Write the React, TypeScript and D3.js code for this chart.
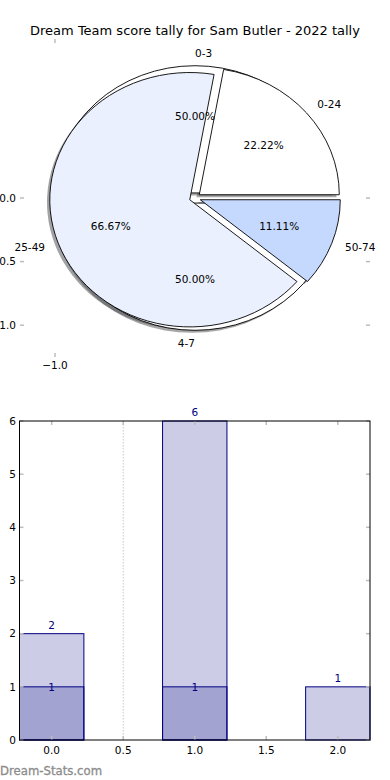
import React from 'react';
import * as d3 from 'd3';

// ---------- data ----------
const title = 'Dream Team score tally for Sam Butler - 2022 tally';
const pieInnerLabels = ['0-3', '4-7'];
const pieInnerValues = [1, 1];
const pieInnerColors = ['#ffffff', '#ffffff'];
const pieOuterLabels = ['0-24', '25-49', '50-74'];
const pieOuterValues = [2, 6, 1];
const pieOuterColors = ['#ffffff', '#eaf0fd', '#c5d8fd'];
const pieXTicks = [-1.0];
const pieXTickLabels = ['\u22121.0'];
const pieYTicks = [0, -0.5, -1.0];
const pieYTickLabels = ['0.0', '\u22120.5', '\u22121.0'];

const barCategories = [0, 1, 2];
const barTotals = [2, 6, 1];
const barSubset = [1, 1, 0];
const barXTicks = [0, 0.5, 1, 1.5, 2];
const barXTickLabels = ['0.0', '0.5', '1.0', '1.5', '2.0'];
const barYTicks = [0, 1, 2, 3, 4, 5, 6];
const watermark = 'Dream-Stats.com';

// ---------- constants ----------
const W = 390;
const H = 780;
const FONT = 'DejaVu Sans, sans-serif';
const EXPLODE = 0.04;
const TICK = '#bdbdbd';
const NAVY = '#000080';

function shade(hex: string) {
  const c = d3.rgb(hex);
  return d3.rgb(c.r * 0.3, c.g * 0.3, c.b * 0.3).toString();
}

export default function App() {
  // ---- pie axes ----
  const px = d3.scaleLinear().domain([-1.25, 1.25]).range([20, 370]);
  const py = d3.scaleLinear().domain([-1.25, 1.25]).range([357, 39]);
  const kx = px(1) - px(0);
  const ky = py(0) - py(1);
  const pieGen = d3
    .pie<number>()
    .sort(null)
    .startAngle(Math.PI / 2)
    .endAngle(Math.PI / 2 - 2 * Math.PI);
  const arcGen = d3.arc<any>().innerRadius(0).outerRadius(1);

  type Wd = { d: any; cx: number; cy: number; theta: number; color: string; label: string; pct: string };
  const build = (values: number[], labels: string[], colors: string[]): Wd[] => {
    const total = d3.sum(values);
    return pieGen(values).map((d, i) => {
      const mid = (d.startAngle + d.endAngle) / 2;
      const theta = Math.PI / 2 - mid;
      return {
        d,
        cx: EXPLODE * Math.cos(theta),
        cy: EXPLODE * Math.sin(theta),
        theta,
        color: colors[i],
        label: labels[i],
        pct: ((values[i] / total) * 100).toFixed(2) + '%',
      };
    });
  };
  const inner = build(pieInnerValues, pieInnerLabels, pieInnerColors);
  const outer = build(pieOuterValues, pieOuterLabels, pieOuterColors);
  const all = [...inner, ...outer];

  // ---- bar axes ----
  const bx = d3.scaleLinear().domain([-0.225, 2.225]).range([19.5, 370]);
  const by = d3.scaleLinear().domain([0, 6]).range([740, 421]);
  const bw = 0.45;

  return (
    <svg
      width={W}
      height={H}
      viewBox={`0 0 ${W} ${H}`}
      style={{ position: 'absolute', left: 0, top: 0, background: '#fff' }}
      fontFamily={FONT}
    >
      <rect x={0} y={0} width={W} height={H} fill="#fff" />
      <text x={195} y={34.5} textAnchor="middle" fontSize={13} fill="#000">
        {title}
      </text>

      {/* pie axis ticks */}
      {pieYTicks.map((t, i) => (
        <g key={'py' + i}>
          <line x1={px.range()[0]} x2={px.range()[0] + 4} y1={py(t)} y2={py(t)} stroke={TICK} strokeWidth={1.5} />
          <line x1={px.range()[1] - 4} x2={px.range()[1]} y1={py(t)} y2={py(t)} stroke={TICK} strokeWidth={1.5} />
          <text x={16} y={py(t)} dy="0.35em" textAnchor="end" fontSize={10.5} fill="#000">
            {pieYTickLabels[i]}
          </text>
        </g>
      ))}
      {pieXTicks.map((t, i) => (
        <g key={'px' + i}>
          <line x1={px(t)} x2={px(t)} y1={py.range()[1]} y2={py.range()[1] + 4} stroke={TICK} strokeWidth={1.5} />
          <line x1={px(t)} x2={px(t)} y1={py.range()[0] - 4} y2={py.range()[0]} stroke={TICK} strokeWidth={1.5} />
          <text x={px(t)} y={py.range()[0] + 12} textAnchor="middle" fontSize={10.5} fill="#000">
            {pieXTickLabels[i]}
          </text>
        </g>
      ))}

      {/* shadows */}
      {all.map((w, i) => (
        <path
          key={'sh' + i}
          d={arcGen(w.d) as string}
          transform={`translate(${px(w.cx - 0.02)},${py(w.cy - 0.02)}) scale(${kx},${ky})`}
          fill={shade(w.color)}
          fillOpacity={0.5}
        />
      ))}
      {/* wedges */}
      {all.map((w, i) => (
        <path
          key={'w' + i}
          d={arcGen(w.d) as string}
          transform={`translate(${px(w.cx)},${py(w.cy)}) scale(${kx},${ky})`}
          fill={w.color}
          stroke="#000"
          strokeWidth={0.9}
          strokeLinejoin="round"
          vectorEffect="non-scaling-stroke"
        />
      ))}
      {/* texts */}
      {all.map((w, i) => {
        const lx = w.cx + 1.1 * Math.cos(w.theta);
        const ly = w.cy + 1.1 * Math.sin(w.theta);
        const tx = w.cx + 0.6 * Math.cos(w.theta);
        const ty = w.cy + 0.6 * Math.sin(w.theta);
        return (
          <g key={'t' + i} fontSize={10.5} fill="#000">
            <text x={px(lx)} y={py(ly)} dy="0.35em" textAnchor={lx > 0 ? 'start' : 'end'}>
              {w.label}
            </text>
            <text x={px(tx)} y={py(ty)} dy="0.35em" textAnchor="middle">
              {w.pct}
            </text>
          </g>
        );
      })}

      {/* ---- bar chart ---- */}
      <line x1={bx(0.5)} x2={bx(0.5)} y1={by(6)} y2={by(0)} stroke="#c8c8c8" strokeWidth={1} strokeDasharray="1.5,1.5" />
      {barCategories.map((c, i) => (
        <rect
          key={'bt' + i}
          x={bx(c - bw / 2)}
          y={by(barTotals[i])}
          width={bx(c + bw / 2) - bx(c - bw / 2)}
          height={by(0) - by(barTotals[i])}
          fill={NAVY}
          fillOpacity={0.2}
          stroke={NAVY}
          strokeWidth={1}
        />
      ))}
      {barCategories.map((c, i) =>
        barSubset[i] > 0 ? (
          <rect
            key={'bs' + i}
            x={bx(c - bw / 2)}
            y={by(barSubset[i])}
            width={bx(c + bw / 2) - bx(c - bw / 2)}
            height={by(0) - by(barSubset[i])}
            fill={NAVY}
            fillOpacity={0.2}
            stroke={NAVY}
            strokeWidth={1}
          />
        ) : null
      )}
      {barCategories.map((c, i) => (
        <text key={'lt' + i} x={bx(c)} y={by(barTotals[i]) - 5} textAnchor="middle" fontSize={10.5} fill={NAVY}>
          {barTotals[i]}
        </text>
      ))}
      {barCategories.map((c, i) =>
        barSubset[i] > 0 ? (
          <text key={'ls' + i} x={bx(c)} y={by(barSubset[i]) + 4} textAnchor="middle" fontSize={10.5} fill={NAVY}>
            {barSubset[i]}
          </text>
        ) : null
      )}
      {/* bar ticks */}
      {barXTicks.map((t, i) => (
        <g key={'bxt' + i}>
          <line x1={bx(t)} x2={bx(t)} y1={by(0) - 4} y2={by(0)} stroke={TICK} strokeWidth={1.5} />
          <line x1={bx(t)} x2={bx(t)} y1={by(6)} y2={by(6) + 4} stroke={TICK} strokeWidth={1.5} />
          <text x={bx(t)} y={by(0) + 10} dy="0.35em" textAnchor="middle" fontSize={10.5} fill="#000">
            {barXTickLabels[i]}
          </text>
        </g>
      ))}
      {barYTicks.map((t, i) => (
        <g key={'byt' + i}>
          <line x1={bx.range()[0]} x2={bx.range()[0] + 4} y1={by(t)} y2={by(t)} stroke={TICK} strokeWidth={1.5} />
          <line x1={bx.range()[1] - 4} x2={bx.range()[1]} y1={by(t)} y2={by(t)} stroke={TICK} strokeWidth={1.5} />
          <text x={16} y={by(t)} dy="0.35em" textAnchor="end" fontSize={10.5} fill="#000">
            {t}
          </text>
        </g>
      ))}
      <rect
        x={bx.range()[0]}
        y={by(6)}
        width={bx.range()[1] - bx.range()[0]}
        height={by(0) - by(6)}
        fill="none"
        stroke="#000"
        strokeWidth={1}
      />

      <text x={0} y={775} fontSize={11.7} fill="#8c8c8c" fontWeight="normal" stroke="#8c8c8c" strokeWidth={0.3}>
        {watermark}
      </text>
    </svg>
  );
}
